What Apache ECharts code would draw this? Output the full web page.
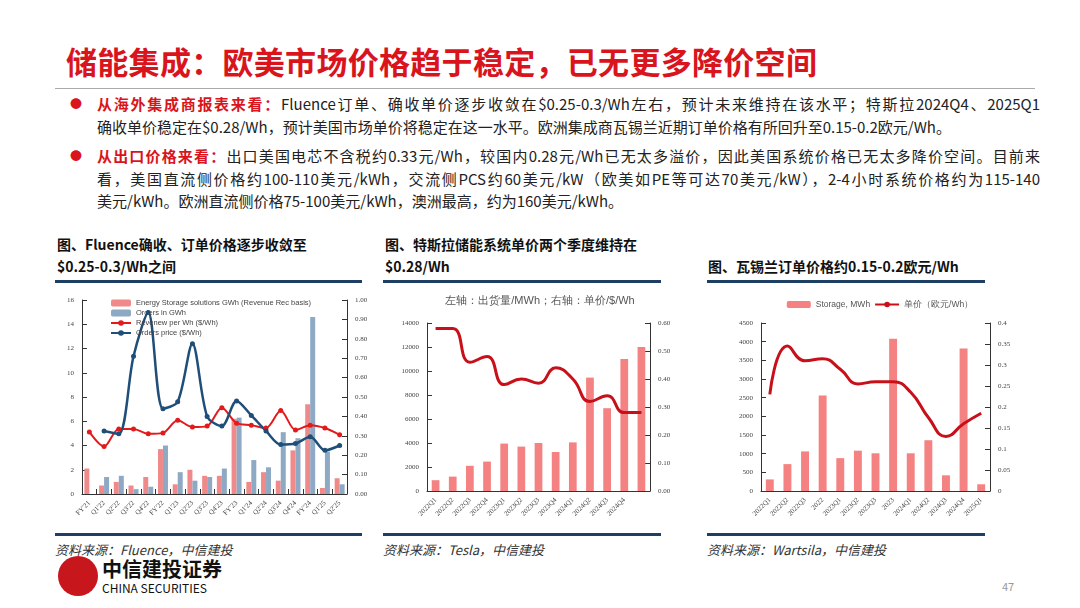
<!DOCTYPE html>
<html><head><meta charset="utf-8">
<script src="https://cdn.jsdelivr.net/npm/echarts@6/dist/echarts.min.js"></script>
<style>
body{margin:0;width:1080px;height:608px;overflow:hidden;background:#fff;font-family:"Noto Sans CJK SC",sans-serif;position:relative}
.a{position:absolute}
.t{color:#d9141c;font-size:31px;font-weight:bold;left:66px;top:38px;letter-spacing:0.3px}
.hr{left:55px;top:88px;width:980px;height:1px;background:#aaa}
.p{left:97px;width:943px;font-size:15px;line-height:22.5px;color:#222}
.p div{white-space:nowrap}
.p .j{text-align:justify;text-align-last:justify}
.p b{color:#d9141c}
.dot{position:absolute;left:-27px;color:#d9141c;font-size:12px}
.h{font-size:14px;font-weight:bold;color:#111;line-height:22px}
.bl{height:3px;background:#1d3f63}
.src{font-size:13px;font-style:italic;color:#333}
</style></head><body>
<div class="a t">储能集成：欧美市场价格趋于稳定，已无更多降价空间</div>
<div class="a hr"></div>
<div class="a p" style="top:93px"><span class="dot">●</span><div class="j"><b>从海外集成商报表来看：</b>Fluence订单、确收单价逐步收敛在$0.25-0.3/Wh左右，预计未来维持在该水平；特斯拉2024Q4、2025Q1</div><div>确收单价稳定在$0.28/Wh，预计美国市场单价将稳定在这一水平。欧洲集成商瓦锡兰近期订单价格有所回升至0.15-0.2欧元/Wh。</div></div>
<div class="a p" style="top:145px"><span class="dot">●</span><div class="j"><b>从出口价格来看：</b>出口美国电芯不含税约0.33元/Wh，较国内0.28元/Wh已无太多溢价，因此美国系统价格已无太多降价空间。目前来</div><div class="j">看，美国直流侧价格约100-110美元/kWh，交流侧PCS约60美元/kW（欧美如PE等可达70美元/kW），2-4小时系统价格约为115-140</div><div>美元/kWh。欧洲直流侧价格75-100美元/kWh，澳洲最高，约为160美元/kWh。</div></div>
<div class="a h" style="left:57px;top:233px">图、Fluence确收、订单价格逐步收敛至<br>$0.25-0.3/Wh之间</div>
<div class="a h" style="left:385px;top:233px">图、特斯拉储能系统单价两个季度维持在<br>$0.28/Wh</div>
<div class="a h" style="left:708px;top:255px">图、瓦锡兰订单价格约0.15-0.2欧元/Wh</div>
<div class="a bl" style="left:55px;top:280px;width:307px"></div>
<div class="a bl" style="left:383px;top:280px;width:278px"></div>
<div class="a bl" style="left:707px;top:280px;width:278px"></div>
<div class="a bl" style="left:55px;top:533px;width:307px"></div>
<div class="a bl" style="left:383px;top:533px;width:278px"></div>
<div class="a bl" style="left:707px;top:533px;width:278px"></div>
<div class="a src" style="left:55px;top:540px">资料来源：Fluence，中信建投</div>
<div class="a src" style="left:383px;top:540px">资料来源：Tesla，中信建投</div>
<div class="a src" style="left:707px;top:540px">资料来源：Wartsila，中信建投</div>
<div class="a" style="left:58px;top:556px;width:40px;height:40px;border-radius:50%;background:#c8161d"></div>
<div class="a" style="left:102px;top:554px;font-size:20px;font-weight:bold;color:#111">中信建投证券</div>
<div class="a" style="left:102px;top:579px;font-size:12px;color:#111">CHINA SECURITIES</div>
<div class="a" style="left:1002px;top:578px;font-size:11px;color:#999">47</div>
<div id="c1" class="a" style="left:55px;top:290px;width:330px;height:250px"></div>
<div id="c2" class="a" style="left:390px;top:285px;width:300px;height:255px"></div>
<div id="c3" class="a" style="left:720px;top:285px;width:320px;height:255px"></div>
<script>
const cat1=["FY'21","Q1'22","Q2'22","Q3'22","Q4'22","FY'22","Q1'23","Q2'23","Q3'23","Q4'23","FY'23","Q1'24","Q2'24","Q3'24","Q4'24","FY'24","Q1'25","Q2'25"];
const ess1=[2.1,0.7,1.0,0.7,1.4,3.7,0.8,2.0,1.5,1.5,6.2,1.0,1.8,1.1,3.6,7.4,0.5,1.3];
const ord1=[null,1.4,1.5,0.4,0.6,4.0,1.8,1.1,1.4,2.1,6.3,2.8,2.2,5.1,4.6,14.6,3.5,0.8];
const rev1=[0.32,0.245,0.335,0.335,0.31,0.315,0.38,0.345,0.35,0.445,0.365,0.355,0.34,0.43,0.33,0.355,0.34,0.305];
const oprice1=[null,0.325,0.31,0.71,0.935,0.44,0.475,0.775,0.40,0.35,0.48,0.405,0.325,0.255,0.26,0.295,0.225,0.25];
const cat2=["2022Q1","2022Q2","2022Q3","2022Q4","2023Q1","2023Q2","2023Q3","2023Q4","2024Q1","2024Q2","2024Q3","2024Q4",""];
const ship2=[900,1200,2100,2450,3950,3700,4000,3250,4050,9450,6900,11000,12000];
const price2=[0.58,0.58,0.46,0.48,0.38,0.40,0.385,0.44,0.40,0.32,0.34,0.28,0.28];
const cat3=["2022Q1","2022Q2","2022Q3","2022","2023Q1","2023Q2","2023Q3","2023","2024Q1","2024Q2","2024Q3","2024Q4","2025Q1"];
const stor3=[310,720,1060,2560,880,1080,1010,4080,1010,1360,420,3820,180];
const price3=[0.23,0.345,0.31,0.315,0.29,0.255,0.26,0.26,0.235,0.175,0.13,0.16,0.185];

const F='Liberation Serif';
const lab=(fmt)=>({fontSize:7,color:'#444',fontFamily:F,formatter:fmt||(v=>String(v))});
const ax=(o)=>Object.assign({axisLine:{show:true,lineStyle:{color:'#333'}},axisTick:{show:true,inside:true},splitLine:{show:false},axisLabel:lab()},o);
const cax=(d)=>({type:'category',data:d,axisLine:{lineStyle:{color:'#333'}},axisTick:{show:true,inside:true},axisLabel:{fontSize:7,color:'#444',rotate:45,interval:0,fontFamily:F}});

echarts.init(document.getElementById('c1')).setOption({animation:false,
grid:{left:27,right:38,top:10,bottom:46},
legend:{left:50,top:4,orient:'vertical',itemGap:2,itemWidth:20,itemHeight:7,textStyle:{fontSize:7.5,color:'#444'},
 data:['Energy Storage solutions GWh (Revenue Rec basis)','Orders in GWh','Revenew per Wh ($/Wh)','Orders price ($/Wh)']},
xAxis:cax(cat1),
yAxis:[ax({min:0,max:16,interval:2}),ax({min:0,max:1,interval:0.1,axisLabel:lab(v=>v.toFixed(2))})],
series:[
{name:'Energy Storage solutions GWh (Revenue Rec basis)',type:'bar',data:ess1,barWidth:5,barGap:'0%',itemStyle:{color:'#f08a8a'}},
{name:'Orders in GWh',type:'bar',data:ord1,barWidth:5,itemStyle:{color:'#8ea9c4'}},
{name:'Revenew per Wh ($/Wh)',type:'line',yAxisIndex:1,data:rev1,smooth:0.3,symbol:'circle',symbolSize:5,lineStyle:{width:2,color:'#e31a1c'},itemStyle:{color:'#e31a1c'}},
{name:'Orders price ($/Wh)',type:'line',yAxisIndex:1,data:oprice1,smooth:0.3,symbol:'circle',symbolSize:5,lineStyle:{width:2.5,color:'#1f4e79'},itemStyle:{color:'#1f4e79'}}
]});

echarts.init(document.getElementById('c2')).setOption({animation:false,
title:{text:'左轴：出货量/MWh；右轴：单价/$/Wh',left:'center',top:5,textStyle:{fontSize:11,fontWeight:'normal',color:'#555'}},
grid:{left:37,right:40,top:38,bottom:49},
xAxis:Object.assign(cax(cat2),{axisTick:{show:false}}),
yAxis:[ax({min:0,max:14000,interval:2000}),ax({min:0,max:0.6,interval:0.1,axisLabel:lab(v=>v.toFixed(2))})],
series:[
{type:'bar',data:ship2,barWidth:'45%',itemStyle:{color:'#f48282'}},
{type:'line',yAxisIndex:1,data:price2,smooth:0.5,symbol:'none',lineStyle:{width:3,color:'#c8101a'}}
]});

echarts.init(document.getElementById('c3')).setOption({animation:false,
grid:{left:41,right:50,top:38,bottom:49},
legend:{top:10,left:'center',itemGap:4,itemWidth:24,itemHeight:7,textStyle:{fontSize:8.5,color:'#555'},data:['Storage, MWh','单价（欧元/Wh）']},
xAxis:Object.assign(cax(cat3),{axisTick:{show:false}}),
yAxis:[ax({min:0,max:4500,interval:500}),ax({min:0,max:0.4,interval:0.05})],
series:[
{name:'Storage, MWh',type:'bar',data:stor3,barWidth:'45%',itemStyle:{color:'#f48282'}},
{name:'单价（欧元/Wh）',type:'line',yAxisIndex:1,data:price3,smooth:0.5,symbol:'none',lineStyle:{width:3,color:'#c8101a'},itemStyle:{color:'#c8101a'}}
]});
</script></body></html>
